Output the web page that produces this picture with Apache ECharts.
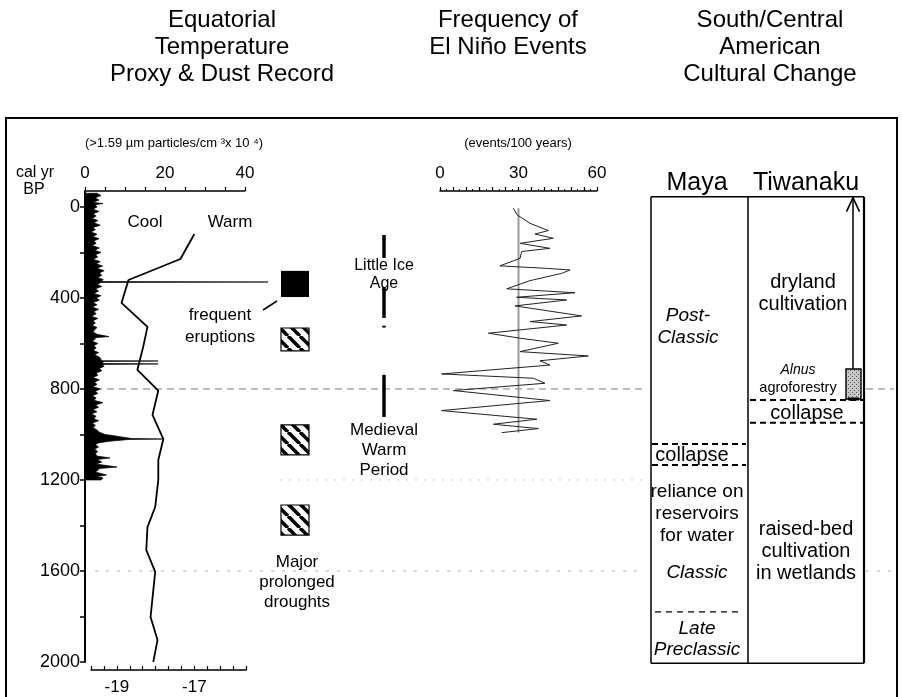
<!DOCTYPE html>
<html>
<head>
<meta charset="utf-8">
<script src="https://cdn.jsdelivr.net/npm/echarts@6/dist/echarts.min.js"></script>
<style>
  html, body { margin: 0; padding: 0; background: #fff; }
  #chart { width: 902px; height: 697px; }
</style>
</head>
<body>
<div id="chart"></div>
<script>
// ---------------- data ----------------
// time axis (cal yr BP)
const yearMin = -70, yearMax = 2000;
const yearTicks = [0, 200, 400, 600, 800, 1000, 1200, 1400, 1600, 1800, 2000];
const yearLabels = [0, 400, 800, 1200, 1600, 2000];

// dust axis (>1.59 um particles/cm3 x 10^4)
const dustTicks = [0, 5, 10, 15, 20, 25, 30, 35, 40];
const dustLabels = [0, 20, 40];

// temperature proxy axis
const tempTicks = [-19.667, -19.333, -19, -18.667, -18.333, -18, -17.667, -17.333, -17, -16.667, -16.333, -16, -15.667];
const tempLabels = [-19, -17];

// El Nino axis (events/100 years)
const ensoLabels = [0, 30, 60];
const ensoMean = 30;

// dust record: [cal yr BP, concentration]
const dustRecord = [
  [-60, 3.0], [-50, 4.0], [-40, 2.5], [-30, 3.5], [-20, 2.0], [-15, 4.5], [-10, 2.5], [0, 3.0], [10, 2.0], [20, 3.5],
  [30, 2.0], [40, 2.8], [50, 1.8], [60, 3.2], [70, 2.2], [80, 3.8], [90, 2.0], [100, 2.6], [110, 1.5], [120, 3.0],
  [130, 2.0], [140, 3.5], [150, 2.2], [160, 2.8], [170, 1.8], [180, 3.6], [190, 2.4], [200, 4.0], [210, 2.6], [220, 3.2],
  [230, 2.0], [240, 3.8], [250, 2.8], [260, 4.4], [270, 3.0], [280, 4.8], [290, 3.6], [300, 4.2], [310, 3.2], [320, 4.6],
  [328, 3.8], [330, 45.75], [332, 4.0], [340, 3.0], [350, 4.2], [360, 2.6], [370, 3.4], [380, 2.2], [390, 4.0], [400, 2.8],
  [410, 3.6], [420, 2.0], [430, 3.0], [440, 1.8], [450, 3.4], [460, 2.2], [470, 2.8], [480, 1.6], [490, 3.2], [500, 2.0],
  [510, 2.6], [520, 1.8], [530, 3.0], [540, 2.4], [550, 2.0], [560, 3.0], [570, 6.0], [575, 2.4], [580, 2.6], [590, 1.8],
  [600, 3.2], [610, 2.2], [620, 2.8], [630, 2.0], [640, 3.4], [650, 2.4], [660, 3.6], [670, 4.0], [676, 4.2], [677, 18.25],
  [679, 4.4], [688, 4.6], [690, 18.25], [692, 4.2], [700, 4.8], [710, 3.6], [720, 4.2], [730, 2.8], [740, 3.2], [750, 2.0],
  [760, 3.6], [770, 2.4], [780, 3.0], [790, 2.0], [800, 3.8], [810, 2.6], [820, 3.2], [830, 1.8], [840, 2.8], [850, 2.2],
  [860, 4.5], [870, 2.6], [880, 3.4], [890, 2.0], [900, 3.0], [910, 1.6], [920, 2.8], [930, 2.2], [940, 3.4], [950, 1.8],
  [960, 2.6], [970, 2.0], [980, 3.0], [990, 3.6], [1000, 5.0], [1005, 7.0], [1012, 9.5], [1018, 11.75], [1020, 19.25], [1022, 11.0],
  [1030, 6.0], [1037, 3.3], [1045, 2.6], [1055, 3.4], [1065, 2.4], [1075, 3.2], [1085, 2.6], [1095, 3.0], [1103, 6.25], [1110, 3.0],
  [1121, 4.2], [1130, 2.8], [1143, 8.0], [1150, 3.5], [1156, 3.3], [1165, 2.6], [1178, 5.4], [1185, 3.0], [1191, 4.5], [1200, 4.0]
];

// temperature proxy: [cal yr BP, value]
const tempRecord = [
  [119, -17.00], [229, -17.36], [321, -18.70], [422, -18.88], [527, -18.21], [615, -18.32], [716, -18.47],
  [807, -17.93], [914, -18.08], [1020, -17.80], [1112, -17.93], [1200, -17.93], [1319, -18.01], [1407, -18.21],
  [1508, -18.24], [1604, -18.01], [1802, -18.13], [1903, -17.95], [2000, -18.06]
];

// El Nino frequency: [cal yr BP, events/100 yr]
const ensoRecord = [
  [6, 28.0], [35, 29.5], [72, 34.4], [104, 41.4], [119, 36.3], [138, 43.3], [160, 30.6], [182, 42.0], [196, 31.2], [226, 30.6],
  [259, 22.9], [270, 40.8], [277, 49.7], [292, 46.5], [324, 34.4], [360, 25.5], [377, 51.6], [397, 29.3], [409, 48.4], [435, 28.7],
  [479, 54.1], [504, 34.4], [519, 48.4], [555, 18.5], [577, 30.6], [599, 45.2], [636, 30.6], [655, 56.7], [676, 38.2], [695, 42.0],
  [734, 0.6], [753, 35.7], [775, 40.1], [807, 5.1], [851, 42.0], [895, 0.6], [933, 37.0], [955, 20.4], [974, 37.6], [992, 23.6]
];

// events and climate periods (cal yr BP spans)
const eruptionSpans = [[281, 396]];
const droughtSpans = [[532, 633], [958, 1090], [1310, 1442]];
const littleIceAgeBars = [[123, 224], [352, 488], [522, 530]];
const medievalWarmBars = [[738, 923]];

// cultural chronology (cal yr BP)
const panelSpan = [-45, 2005];
const mayaCollapse = [1042, 1134];
const mayaPreclassicEnd = 1780;
const tiwanakuCollapse = [848, 949];
const alnusSpan = [712, 844];

// horizontal reference years
const refDashed = 800;
const refDotted = [1200, 1600];

// ---------------- layout ----------------
const FONT = 'Liberation Sans';
const gridTop = 191, gridHeight = 471;

function hatchCanvas() {
  const s = 12, c = document.createElement('canvas');
  c.width = c.height = s;
  const g = c.getContext('2d');
  g.fillStyle = '#fff'; g.fillRect(0, 0, s, s);
  g.strokeStyle = '#000'; g.lineWidth = 3.6;
  for (const k of [-1, 0, 1]) {
    g.beginPath(); g.moveTo(k * s, 0); g.lineTo(k * s + s, s); g.stroke();
  }
  return c;
}
function stippleCanvas() {
  const c = document.createElement('canvas');
  c.width = c.height = 4;
  const g = c.getContext('2d');
  g.fillStyle = '#c8c8c8'; g.fillRect(0, 0, 4, 4);
  g.fillStyle = '#555'; g.fillRect(0, 0, 1, 1); g.fillRect(2, 2, 1, 1);
  return c;
}
const hatchFill = { image: hatchCanvas(), repeat: 'repeat' };
const stippleFill = { image: stippleCanvas(), repeat: 'repeat' };

function txt(s, x, y, size, italic) {
  return {
    type: 'text', x: x, y: y, silent: true,
    style: {
      text: s, fontSize: size, fontFamily: FONT, fontStyle: italic ? 'italic' : 'normal',
      fill: '#000', align: 'center', verticalAlign: 'middle'
    }
  };
}

const hiddenAxis = (grid, min, max, inverse) => ({
  gridIndex: grid, type: 'value', min: min, max: max, inverse: !!inverse, show: false
});

const axisFont = { fontSize: 17, color: '#000', fontFamily: FONT, formatter: v => String(v) };

const option = {
  animation: false,
  backgroundColor: '#fff',
  grid: [
    { left: 85, top: gridTop, width: 160, height: gridHeight },   // dust
    { left: 91, top: gridTop, width: 155, height: gridHeight },   // temperature
    { left: 440, top: gridTop, width: 157, height: gridHeight },  // El Nino
    { left: 0, top: gridTop, width: 902, height: gridHeight }     // annotations
  ],
  xAxis: [
    {
      gridIndex: 0, type: 'value', position: 'top', min: 0, max: 40,
      axisLine: { show: true, onZero: false, lineStyle: { color: '#000', width: 1.5 } },
      axisTick: { show: true, customValues: dustTicks, length: 4, lineStyle: { color: '#000', width: 1.2 } },
      axisLabel: Object.assign({ customValues: dustLabels, margin: 9 }, axisFont),
      splitLine: { show: false }
    },
    {
      gridIndex: 1, type: 'value', position: 'bottom', offset: 8, min: -19.667, max: -15.667,
      axisLine: { show: true, onZero: false, lineStyle: { color: '#000', width: 1.5 } },
      axisTick: { show: true, inside: true, customValues: tempTicks, length: 4, lineStyle: { color: '#000', width: 1.2 } },
      axisLabel: Object.assign({ customValues: tempLabels, margin: 9 }, axisFont),
      splitLine: { show: false }
    },
    {
      gridIndex: 2, type: 'value', position: 'top', min: 0, max: 60, interval: 5,
      axisLine: { show: true, onZero: false, lineStyle: { color: '#000', width: 1.5 } },
      axisTick: { show: true, length: 4, lineStyle: { color: '#000', width: 1.2 } },
      minorTick: { show: true, splitNumber: 2, length: 2, lineStyle: { color: '#000', width: 1 } },
      axisLabel: Object.assign({ customValues: ensoLabels, margin: 9 }, axisFont),
      splitLine: { show: false }
    },
    hiddenAxis(3, 0, 902)
  ],
  yAxis: [
    {
      gridIndex: 0, type: 'value', min: yearMin, max: yearMax, inverse: true,
      axisLine: { show: true, onZero: false, lineStyle: { color: '#000', width: 2 } },
      axisTick: { show: true, customValues: yearTicks, length: 5, lineStyle: { color: '#000', width: 1.5 } },
      axisLabel: Object.assign({ customValues: yearLabels, margin: 5 }, axisFont, { fontSize: 18 }),
      splitLine: { show: false }
    },
    hiddenAxis(1, yearMin, yearMax, true),
    hiddenAxis(2, yearMin, yearMax, true),
    hiddenAxis(3, yearMin, yearMax, true)
  ],
  series: [
    // horizontal reference lines
    {
      type: 'custom', xAxisIndex: 3, yAxisIndex: 3, silent: true, z: 1,
      data: [[0, refDashed]],
      renderItem: function (params, api) {
        const y = (yr) => api.coord([0, yr])[1];
        const seg = (x1, x2, yr, stroke, dash) => ({
          type: 'line', shape: { x1: x1, y1: y(yr), x2: x2, y2: y(yr) },
          style: { stroke: stroke, lineWidth: 1, lineDash: dash }
        });
        return {
          type: 'group', children: [
            seg(95, 645, refDashed, '#7a7a7a', [7, 5]),
            seg(866, 894, refDashed, '#7a7a7a', [7, 5]),
            seg(280, 645, refDotted[0], '#c4c4c4', [2, 7]),
            seg(95, 645, refDotted[1], '#b0b0b0', [3, 8]),
            seg(866, 894, refDotted[1], '#b0b0b0', [3, 8])
          ]
        };
      }
    },
    // dust record, filled from the axis
    {
      type: 'custom', xAxisIndex: 0, yAxisIndex: 0, silent: true, clip: false, z: 3,
      data: [[0, 0]],
      renderItem: function (params, api) {
        const pts = [api.coord([0, dustRecord[0][0]])];
        dustRecord.forEach(d => pts.push(api.coord([d[1], d[0]])));
        pts.push(api.coord([0, dustRecord[dustRecord.length - 1][0]]));
        return {
          type: 'polygon', shape: { points: pts },
          style: { fill: '#000', stroke: '#000', lineWidth: 0.7 }
        };
      }
    },
    // temperature proxy
    {
      type: 'line', xAxisIndex: 1, yAxisIndex: 1, z: 4, silent: true,
      data: tempRecord.map(d => [d[1], d[0]]),
      symbol: 'none', lineStyle: { color: '#000', width: 1.8 }
    },
    // El Nino mean line
    {
      type: 'line', xAxisIndex: 2, yAxisIndex: 2, z: 3, silent: true,
      data: [[ensoMean, ensoRecord[0][0]], [ensoMean, ensoRecord[ensoRecord.length - 1][0]]],
      symbol: 'none', lineStyle: { color: '#999', width: 2 }
    },
    // El Nino frequency
    {
      type: 'line', xAxisIndex: 2, yAxisIndex: 2, z: 4, silent: true,
      data: ensoRecord.map(d => [d[1], d[0]]),
      symbol: 'none', lineStyle: { color: '#222', width: 1 }
    },
    // eruptions and droughts
    {
      type: 'custom', xAxisIndex: 3, yAxisIndex: 3, silent: true, z: 4,
      data: eruptionSpans.map(s => [s[0], s[1], 0]).concat(droughtSpans.map(s => [s[0], s[1], 1])),
      renderItem: function (params, api) {
        const y1 = api.coord([0, api.value(0)])[1], y2 = api.coord([0, api.value(1)])[1];
        const solid = api.value(2) === 0;
        return {
          type: 'rect', shape: { x: 281, y: y1, width: 28, height: y2 - y1 },
          style: solid ? { fill: '#000' } : { fill: hatchFill, stroke: '#000', lineWidth: 1.2 }
        };
      }
    },
    // Little Ice Age and Medieval Warm Period bars
    {
      type: 'custom', xAxisIndex: 3, yAxisIndex: 3, silent: true, z: 4,
      data: littleIceAgeBars.concat(medievalWarmBars),
      renderItem: function (params, api) {
        const y1 = api.coord([0, api.value(0)])[1], y2 = api.coord([0, api.value(1)])[1];
        return {
          type: 'line', shape: { x1: 384, y1: y1, x2: 384, y2: y2 },
          style: { stroke: '#000', lineWidth: 3.5 }
        };
      }
    },
    // Maya / Tiwanaku chronology panel
    {
      type: 'custom', xAxisIndex: 3, yAxisIndex: 3, silent: true, z: 5,
      data: [[0, panelSpan[0]]],
      renderItem: function (params, api) {
        const y = (yr) => api.coord([0, yr])[1];
        const yT = y(panelSpan[0]), yB = y(panelSpan[1]);
        const L = 651, M = 748, R = 864;
        const line = (x1, y1, x2, y2, w, dash) => ({
          type: 'line', shape: { x1: x1, y1: y1, x2: x2, y2: y2 },
          style: { stroke: '#000', lineWidth: w, lineDash: dash || null }
        });
        const arrowTop = yT + 1;
        return {
          type: 'group', children: [
            line(L, yT, R, yT, 1.5),
            line(L, yB, R, yB, 1.5),
            line(L, yT, L, yB, 1.5),
            line(M, yT, M, yB, 1.5),
            line(R, yT, R, yB, 2.2),
            line(L + 1, y(mayaCollapse[0]), M - 2, y(mayaCollapse[0]), 2, [6, 4]),
            line(L + 1, y(mayaCollapse[1]), M - 2, y(mayaCollapse[1]), 2, [6, 4]),
            line(L + 4, y(mayaPreclassicEnd), M - 6, y(mayaPreclassicEnd), 1.3, [6, 5]),
            line(M + 2, y(tiwanakuCollapse[0]), R - 1, y(tiwanakuCollapse[0]), 2, [6, 4]),
            line(M + 2, y(tiwanakuCollapse[1]), R - 1, y(tiwanakuCollapse[1]), 2, [6, 4]),
            line(853, y(alnusSpan[0]), 853, arrowTop, 1.5),
            {
              type: 'polyline', shape: { points: [[846.5, arrowTop + 14], [853, arrowTop], [859.5, arrowTop + 14]] },
              style: { stroke: '#000', lineWidth: 1.6, fill: null }
            },
            {
              type: 'rect', shape: { x: 846, y: y(alnusSpan[0]), width: 15, height: y(alnusSpan[1]) - y(alnusSpan[0]) },
              style: { fill: stippleFill, stroke: '#000', lineWidth: 1.4 }
            },
            line(848, y(alnusSpan[1]), 859, y(alnusSpan[1]), 3)
          ]
        };
      }
    }
  ],
  graphic: [
    // frame
    {
      type: 'polyline', silent: true,
      shape: { points: [[6, 697], [6, 118], [897, 118], [897, 697]] },
      style: { stroke: '#000', lineWidth: 2, fill: null }
    },
    {
      type: 'line', silent: true, shape: { x1: 263, y1: 310, x2: 277, y2: 301 },
      style: { stroke: '#000', lineWidth: 1.5 }
    },
    // column titles
    txt('Equatorial', 222, 20, 24), txt('Temperature', 222, 47, 24), txt('Proxy & Dust Record', 222, 74, 24),
    txt('Frequency of', 508, 20, 24), txt('El Niño Events', 508, 47, 24),
    txt('South/Central', 770, 20, 24), txt('American', 770, 47, 24), txt('Cultural Change', 770, 74, 24),
    txt('(>1.59 µm particles/cm ³x 10 ⁴)', 174, 143, 13),
    txt('(events/100 years)', 518, 143, 13),
    txt('cal yr', 35, 173, 16), txt('BP', 34, 190, 16),
    txt('Cool', 145, 222, 17), txt('Warm', 230, 222, 17),
    txt('frequent', 220, 315, 17), txt('eruptions', 220, 337, 17),
    txt('Little Ice', 384, 266, 16), txt('Age', 384, 284, 16),
    txt('Medieval', 384, 430, 17), txt('Warm', 384, 450, 17), txt('Period', 384, 470, 17),
    txt('Major', 297, 562, 17), txt('prolonged', 297, 582, 17), txt('droughts', 297, 602, 17),
    // chronology panel
    txt('Maya', 697, 183, 25), txt('Tiwanaku', 806, 183, 25),
    txt('Post-', 688, 316, 19, true), txt('Classic', 688, 338, 19, true),
    txt('dryland', 803, 282, 20), txt('cultivation', 803, 304, 20),
    txt('Alnus', 798, 370, 14, true), txt('agroforestry', 798, 388, 14.5),
    txt('collapse', 807, 413, 20), txt('collapse', 692, 455, 20),
    txt('reliance on', 697, 492, 19), txt('reservoirs', 697, 514, 19), txt('for water', 697, 536, 19),
    txt('Classic', 697, 573, 19, true),
    txt('Late', 697, 629, 19, true), txt('Preclassic', 697, 650, 19, true),
    txt('raised-bed', 806, 529, 20), txt('cultivation', 806, 551, 20), txt('in wetlands', 806, 573, 20)
  ]
};

const chart = echarts.init(document.getElementById('chart'));
chart.setOption(option);
</script>
</body>
</html>
